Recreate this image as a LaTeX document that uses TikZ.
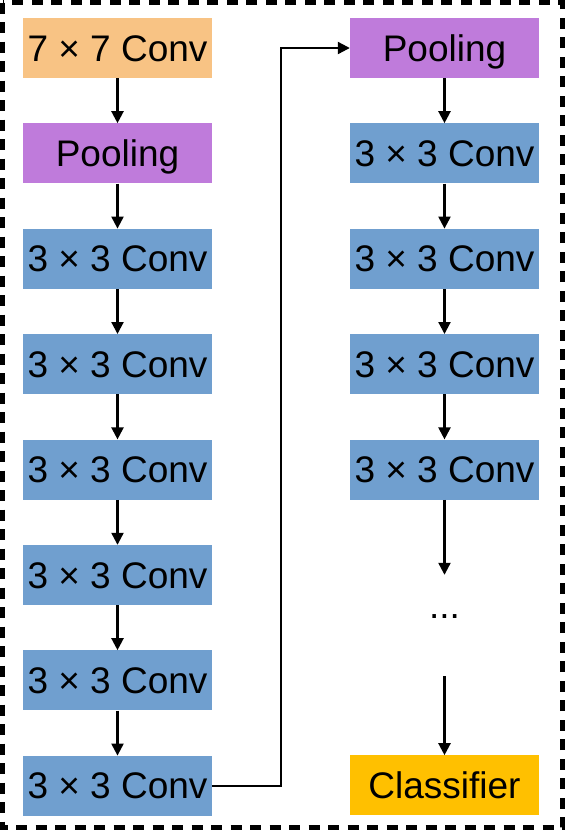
\documentclass[tikz,border=0pt]{standalone}
\usepackage{fontspec}
\setmainfont{Liberation Sans}
\usepackage{xcolor}
\usetikzlibrary{arrows.meta,positioning}
\definecolor{xorange}{HTML}{F8C384}
\definecolor{xpurple}{HTML}{BF7BDB}
\definecolor{xblue}{HTML}{709FCF}
\definecolor{xgold}{HTML}{FFC000}

\begin{document}
\begin{tikzpicture}[
    x=1pt, y=1pt,
    >={Triangle[length=12pt,width=12pt]},
    node distance=45pt,
    layer/.style={rectangle, inner sep=0pt, minimum width=189pt, minimum height=60pt, text height=26pt, text depth=0pt, font=\fontsize{37}{44}\selectfont},
    conv/.style={layer, fill=xblue},
    pool/.style={layer, fill=xpurple},
    first/.style={layer, fill=xorange},
    cls/.style={layer, fill=xgold},
    flow/.style={->, line width=2.2pt},
]
\useasboundingbox (0,0) rectangle (565,-831);

% Frame
\draw[line width=5pt, dash pattern=on 11pt off 8.5pt] (2.5,-2.5) rectangle (562.5,-827.5);

% Left column
\node[first] (stem) at (117.5,-48) {7 × 7 Conv};
\node[pool, below=of stem] (poolA) {Pooling};
\node[conv, below=of poolA] (ca1) {3 × 3 Conv};
\node[conv, below=of ca1] (ca2) {3 × 3 Conv};
\node[conv, below=of ca2] (ca3) {3 × 3 Conv};
\node[conv, below=of ca3] (ca4) {3 × 3 Conv};
\node[conv, below=of ca4] (ca5) {3 × 3 Conv};
\node[conv, below=of ca5] (ca6) {3 × 3 Conv};

% Right column
\node[pool] (poolB) at (444.5,-48) {Pooling};
\node[conv, below=of poolB] (cb1) {3 × 3 Conv};
\node[conv, below=of cb1] (cb2) {3 × 3 Conv};
\node[conv, below=of cb2] (cb3) {3 × 3 Conv};
\node[conv, below=of cb3] (cb4) {3 × 3 Conv};
\node[layer, below=75pt of cb4] (dots) {...};
\node[cls, below=120pt of dots] (classifier) {Classifier};

% Arrows
\draw[flow] (stem) -- (poolA);
\draw[flow] (poolA) -- (ca1);
\draw[flow] (ca1) -- (ca2);
\draw[flow] (ca2) -- (ca3);
\draw[flow] (ca3) -- (ca4);
\draw[flow] (ca4) -- (ca5);
\draw[flow] (ca5) -- (ca6);
\draw[flow] (ca6.east) -- ++(69pt,0) |- (poolB.west);
\draw[flow] (poolB) -- (cb1);
\draw[flow] (cb1) -- (cb2);
\draw[flow] (cb2) -- (cb3);
\draw[flow] (cb3) -- (cb4);
\draw[flow] (cb4) -- (dots);
\draw[flow] ([yshift=-41pt]dots.south) -- (classifier.north);

\end{tikzpicture}
\end{document}
